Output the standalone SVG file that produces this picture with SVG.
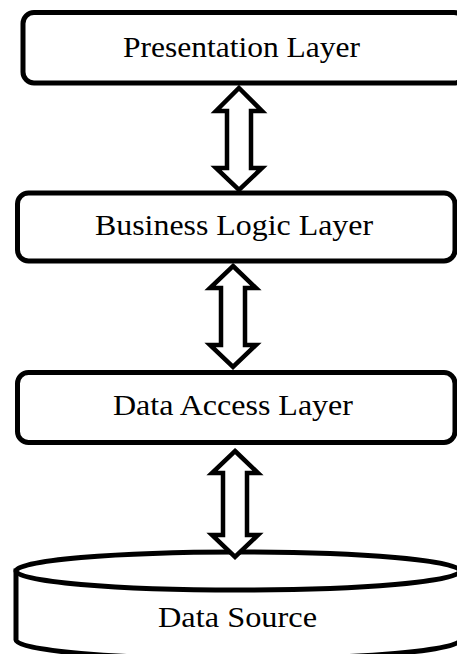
<svg xmlns="http://www.w3.org/2000/svg" width="457" height="654" viewBox="0 0 457 654">
<style>
.box{fill:#fff;stroke:#000;stroke-width:5}
.arr{fill:#fff;stroke:#000;stroke-width:4.5;stroke-linejoin:miter}
.lbl{font-family:"Liberation Serif","Times New Roman",serif;font-size:30px;fill:#000;text-anchor:middle}
</style>
<rect width="457" height="654" fill="#fff"/>
<g id="presentation">
<rect class="box" x="23" y="12.5" width="442" height="70.5" rx="11"/>
<text class="lbl" x="241.5" y="57" textLength="237" lengthAdjust="spacingAndGlyphs">Presentation Layer</text>
</g>
<g id="business">
<rect class="box" x="17.5" y="193" width="437.5" height="68" rx="11"/>
<text class="lbl" x="234" y="235" textLength="278" lengthAdjust="spacingAndGlyphs">Business Logic Layer</text>
</g>
<g id="dataaccess">
<rect class="box" x="17.5" y="372.5" width="437.5" height="70" rx="11"/>
<text class="lbl" x="233" y="415" textLength="240" lengthAdjust="spacingAndGlyphs">Data Access Layer</text>
</g>
<g id="datasource">
<path class="box" d="M16,571 L16,640 A222,19 0 0 0 460,640 L460,571 Z"/>
<ellipse class="box" cx="238" cy="571" rx="222" ry="19"/>
<text class="lbl" x="237.5" y="627" textLength="159" lengthAdjust="spacingAndGlyphs">Data Source</text>
</g>
<g id="connectors">
<path class="arr" d="M239,88 L262,111 L251,111 L251,168 L262,168 L239,190 L216,168 L227,168 L227,111 L216,111 Z"/>
<path class="arr" d="M233,266 L256,288 L245,288 L245,345 L256,345 L233,367 L210,345 L221,345 L221,288 L210,288 Z"/>
<path class="arr" d="M235,451 L258,473 L247,473 L247,535 L258,535 L235,557 L212,535 L223,535 L223,473 L212,473 Z"/>
</g>
</svg>
